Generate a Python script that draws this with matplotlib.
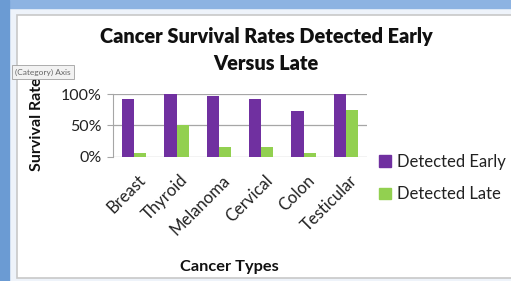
import numpy as np
import matplotlib
matplotlib.use("Agg")
import matplotlib.pyplot as plt
from matplotlib.patches import Rectangle, Patch

plt.rcParams['font.family'] = ['Lato', 'DejaVu Sans']

# data
categories = ["Breast", "Thyroid", "Melanoma", "Cervical", "Colon", "Testicular"]
early = [93, 100, 98, 93, 73, 100]
late = [6, 50, 15, 15, 6, 75]
yticks = [0, 50, 100]
ytick_labels = ["0%", "50%", "100%"]

W, H = 511, 281
purple = "#7030A0"
green = "#92D050"


def px(x, y):
    return (x / W, 1 - y / H)


fig = plt.figure(figsize=(W / 100, H / 100), dpi=100)
fig.patch.set_facecolor("white")

# window frame (blue strips + gray chart border)
fig.add_artist(Rectangle((0, 0), 1, 1, transform=fig.transFigure, color="#eef3fa", zorder=0))
fig.add_artist(Rectangle(px(0, 8), 1, 8 / H, transform=fig.transFigure, color="#8db3e2", zorder=1))
fig.add_artist(Rectangle(px(0, H), 9 / W, 1, transform=fig.transFigure, color="#6b9bd3", zorder=1))
fig.add_artist(Rectangle(px(17, 278), 1, 263 / H, transform=fig.transFigure,
                         facecolor="white", edgecolor="#c8c8c8", lw=1.2, zorder=1))

# plot area
ax = fig.add_axes([113 / W, (H - 156.7) / H, 254 / W, 62.4 / H])
ax.set_zorder(5)
ax.set_facecolor("none")
x = np.arange(len(categories))
w = 0.285
ax.bar(x - w / 2, early, w, color=purple, zorder=3)
ax.bar(x + w / 2, late, w, color=green, zorder=3)
ax.set_xlim(-0.5, len(categories) - 0.5)
ax.set_ylim(0, 100)
ax.set_yticks(yticks)
ax.set_yticklabels(ytick_labels, fontsize=11.5, color="#222222")
ax.yaxis.grid(True, color="#a6a6a6", lw=0.9, zorder=0)
ax.tick_params(axis="y", length=4, color="#a6a6a6", pad=4)
ax.tick_params(axis="x", length=0, pad=11)
ax.set_xticks(x + 0.08)
ax.set_xticklabels(categories, rotation=45, ha="right", va="top",
                   rotation_mode="anchor", fontsize=12, color="#222222")
for s in ["top", "right", "bottom"]:
    ax.spines[s].set_visible(False)
ax.spines["left"].set_color("#a6a6a6")

# titles
fig.text(*px(266, 37), "Cancer Survival Rates Detected Early", ha="center", va="center",
         fontsize=14.3, fontweight="heavy", color="#111111", zorder=6)
fig.text(*px(266, 63), "Versus Late", ha="center", va="center",
         fontsize=14.3, fontweight="heavy", color="#111111", zorder=6)
fig.text(*px(37, 124), "Survival Rate", ha="center", va="center", rotation=90,
         fontsize=11.5, fontweight="bold", color="#111111", zorder=6)
fig.text(*px(229, 267), "Cancer Types", ha="center", va="center",
         fontsize=11.8, fontweight="bold", color="#111111", zorder=6)

# tooltip
fig.text(*px(43, 72), "(Category) Axis", ha="center", va="center", fontsize=6,
         color="#666666", zorder=7,
         bbox=dict(boxstyle="square,pad=0.35", facecolor="#f2f2f2", edgecolor="#a0a0a0", lw=0.6))

# legend
handles = [Patch(color=purple, label="Detected Early"), Patch(color=green, label="Detected Late")]
leg = fig.legend(handles=handles, loc="center left", bbox_to_anchor=px(364, 178),
                 frameon=False, fontsize=12, handlelength=0.7, handleheight=0.7,
                 handletextpad=0.4, labelspacing=1.0, labelcolor="#222222")
leg.set_zorder(6)

fig.savefig("out.png", dpi=100)
